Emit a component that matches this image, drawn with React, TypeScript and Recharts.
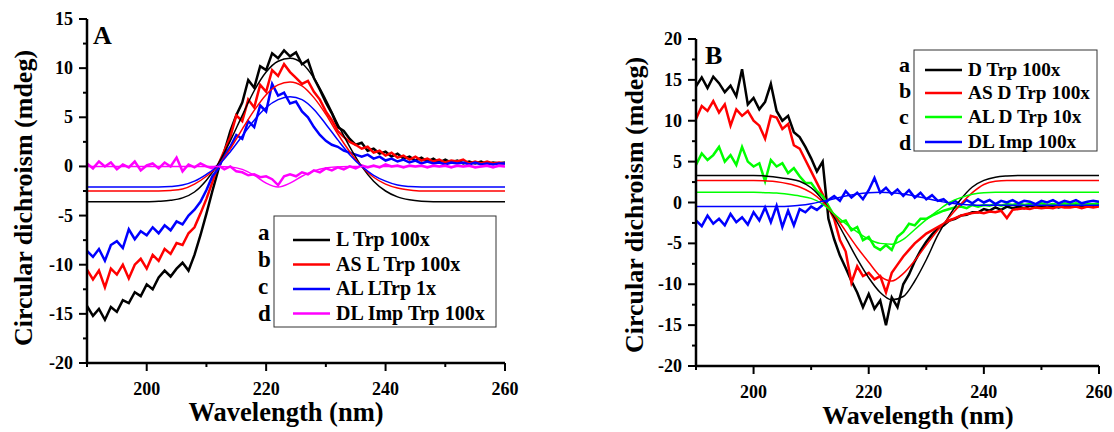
import React from 'react';
import { LineChart, Line, XAxis, YAxis } from 'recharts';

const FONT = '"Liberation Serif", "Times New Roman", serif';

// ---------- shared x values ----------
const wavelengths = [
  190, 191, 192, 193, 194, 195, 196, 197, 198, 199,
  200, 201, 202, 203, 204, 205, 206, 207, 208, 209,
  210, 211, 212, 213, 214, 215, 216, 217, 218, 219,
  220, 221, 222, 223, 224, 225, 226, 227, 228, 229,
  230, 231, 232, 233, 234, 235, 236, 237, 238, 239,
  240, 241, 242, 243, 244, 245, 246, 247, 248, 249,
  250, 251, 252, 253, 254, 255, 256, 257, 258, 259, 260,
];
const fitWavelengths = [
  190, 192, 194, 196, 198, 200, 202, 204, 206, 208, 210, 212,
  214, 216, 218, 220, 222, 224, 226, 228, 230, 232, 234, 236,
  238, 240, 242, 244, 246, 248, 250, 252, 254, 256, 258, 260,
];

const xTicks = [190, 200, 210, 220, 230, 240, 250, 260];
const yTicksA = [-20, -17.5, -15, -12.5, -10, -7.5, -5, -2.5, 0, 2.5, 5, 7.5, 10, 12.5, 15];
const yTicksB = [-20, -17.5, -15, -12.5, -10, -7.5, -5, -2.5, 0, 2.5, 5, 7.5, 10, 12.5, 15, 17.5, 20];

// ---------- Panel A measured ----------
const aLTrp = [
  -14.2, -15.2, -14.5, -15.6, -14.3, -14.8, -13.6, -13.9, -12.8, -13.2,
  -12.0, -12.5, -11.3, -10.6, -11.2, -10.4, -9.8, -10.6, -9.0, -7.0,
  -4.8, -2.5, -0.3, 1.5, 3.6, 5.2, 6.5, 8.8, 8.0, 10.2,
  9.8, 11.5, 11.0, 11.8, 11.2, 11.6, 10.4, 10.8, 9.0, 7.8,
  6.5, 5.4, 4.0, 3.6, 2.8, 2.2, 2.4, 1.6, 1.8, 1.3,
  1.5, 1.0, 1.3, 0.8, 1.0, 0.6, 0.9, 0.5, 0.8, 0.4,
  0.7, 0.4, 0.6, 0.3, 0.5, 0.3, 0.5, 0.2, 0.4, 0.3, 0.4,
];
const aASLTrp = [
  -10.5, -11.5, -10.6, -12.3, -10.4, -11.0, -10.0, -11.4, -10.0, -9.4,
  -10.4, -9.0, -9.6, -8.4, -8.9, -7.8, -8.0, -6.8, -6.2, -4.8,
  -3.3, -1.6, 0.2, 1.6, 3.0, 5.2, 4.6, 6.8, 6.0, 8.3,
  7.6, 9.8, 9.2, 10.4, 9.6, 9.0, 8.4, 8.7, 7.6, 6.8,
  5.6, 4.7, 3.6, 3.0, 2.5, 2.2, 1.8, 2.0, 1.4, 1.6,
  1.1, 1.4, 0.9, 1.1, 0.7, 1.0, 0.6, 0.8, 0.5, 0.7,
  0.4, 0.6, 0.5, 0.7, 0.3, 0.5, 0.3, 0.5, 0.3, 0.4, 0.3,
];
const aALLTrp = [
  -8.6, -9.2, -8.4, -9.6, -8.0, -7.6, -8.3, -6.4, -7.4, -6.6,
  -7.0, -6.2, -6.8, -6.0, -6.5, -5.6, -5.9, -5.0, -4.4, -3.6,
  -2.4, -1.0, -0.2, 1.2, 2.0, 3.2, 2.8, 4.6, 4.0, 6.2,
  5.6, 8.4, 7.2, 7.5, 6.4, 6.6, 5.6, 5.0, 4.0, 3.2,
  2.6, 2.2, 2.0, 1.6, 1.4, 1.2, 1.0, 1.2, 0.8, 1.0,
  0.6, 0.8, 0.5, 0.7, 0.4, 0.6, 0.3, 0.5, 0.3, 0.4,
  0.2, 0.4, 0.3, 0.4, 0.2, 0.4, 0.2, 0.3, 0.2, 0.3, 0.3,
];
const aDLImp = [
  0.3, -0.2, 0.5, 0.0, 0.4, -0.3, 0.2, -0.1, 0.5, -0.4,
  0.1, 0.3, -0.2, 0.4, 0.0, 0.9, -0.5, 0.2, -0.1, 0.3,
  0.0, -0.2, 0.1, -0.3, 0.0, -0.5, -0.6, -0.9, -0.8, -1.1,
  -1.0, -1.3, -1.9, -1.0, -0.8, -1.0, -0.6, -0.8, -0.4, -0.6,
  -0.2, -0.4, -0.1, -0.3, 0.0, -0.2, 0.1, -0.1, 0.1, -0.1,
  0.2, 0.0, 0.1, -0.1, 0.1, 0.0, 0.1, -0.1, 0.1, 0.0,
  0.1, -0.1, 0.1, 0.0, 0.1, -0.1, 0.0, 0.1, -0.1, 0.1, 0.0,
];

// ---------- Panel A fits ----------
const aLTrpFit = [
  -3.6, -3.6, -3.6, -3.6, -3.6, -3.6, -3.55, -3.45, -3.2, -2.6, -1.4, 0.3,
  2.6, 5.2, 7.7, 9.6, 10.7, 11.0, 10.5, 9.0, 6.8, 4.3, 2.0, 0.0,
  -1.5, -2.5, -3.1, -3.4, -3.55, -3.6, -3.6, -3.6, -3.6, -3.6, -3.6, -3.6,
];
const aASLTrpFit = [
  -2.5, -2.5, -2.5, -2.5, -2.5, -2.5, -2.5, -2.45, -2.3, -1.8, -1.0, 0.1,
  1.8, 3.8, 5.7, 7.3, 8.3, 8.6, 8.2, 7.0, 5.3, 3.3, 1.5, 0.0,
  -1.1, -1.8, -2.2, -2.4, -2.5, -2.5, -2.5, -2.5, -2.5, -2.5, -2.5, -2.5,
];
const aALLTrpFit = [
  -2.1, -2.1, -2.1, -2.1, -2.1, -2.1, -2.1, -2.05, -1.9, -1.5, -0.8, 0.1,
  1.5, 3.1, 4.7, 6.0, 6.8, 7.1, 6.8, 5.8, 4.3, 2.7, 1.2, 0.0,
  -0.9, -1.5, -1.9, -2.05, -2.1, -2.1, -2.1, -2.1, -2.1, -2.1, -2.1, -2.1,
];
const aDLImpFit = [
  0, 0, 0, 0, 0, 0, 0, 0, 0, 0, 0, 0,
  -0.05, -0.3, -0.9, -1.7, -2.1, -1.7, -1.0, -0.45, -0.15, -0.05, 0, 0,
  0, 0, 0, 0, 0, 0, 0, 0, 0, 0, 0, 0,
];

// ---------- Panel B measured ----------
const bDTrp = [
  14.2, 15.3, 14.0, 15.4, 14.6, 13.5, 14.3, 13.0, 16.3, 12.0,
  12.8, 11.4, 12.3, 14.5, 11.2, 10.0, 10.6, 8.6, 8.0, 6.8,
  5.4, 3.8, 5.0, -2.0, -4.5, -6.5, -8.0, -9.6, -11.0, -12.8,
  -11.2, -13.0, -12.0, -15.0, -11.6, -12.8, -10.0, -8.8, -7.2, -5.9,
  -4.8, -3.9, -3.2, -2.8, -2.2, -2.0, -1.6, -1.5, -1.2, -1.2,
  -0.8, -1.0, -0.6, -0.9, -0.5, -0.7, -0.5, -0.7, -0.4, -0.6,
  -0.5, -0.6, -0.4, -0.6, -0.4, -0.5, -0.3, -0.6, -0.4, -0.5, -0.3,
];
const bASDTrp = [
  10.2, 11.8, 11.2, 12.4, 11.0, 12.0, 9.4, 11.4, 10.6, 11.2,
  10.0, 9.4, 7.8, 10.6, 10.4, 9.0, 9.6, 7.0, 6.6, 5.2,
  3.8, 2.4, 1.0, -0.6, -2.0, -4.6, -6.0, -9.8, -7.8, -9.0,
  -8.6, -9.4, -9.0, -11.0, -8.6, -7.6, -6.6, -5.8, -5.0, -4.4,
  -3.8, -3.4, -3.0, -2.6, -2.2, -1.9, -1.6, -1.4, -1.3, -1.2,
  -1.3, -1.1, -1.2, -1.0, -1.9, -0.9, -0.8, -0.7, -0.8, -0.6,
  -0.7, -0.6, -0.7, -0.5, -0.6, -0.6, -0.5, -0.7, -0.5, -0.6, -0.5,
];
const bALDTrp = [
  4.6, 6.0, 5.2, 5.8, 6.8, 5.0, 5.8, 4.6, 6.8, 5.0,
  4.4, 4.8, 2.6, 5.2, 4.4, 4.8, 3.6, 4.2, 3.2, 2.4,
  2.4, 1.4, 0.8, -0.4, -1.6, -2.4, -2.2, -3.4, -3.0, -4.6,
  -4.2, -5.4, -5.8, -5.2, -5.8, -4.2, -3.6, -2.6, -2.8, -2.0,
  -2.0, -1.6, -1.3, -1.0, -0.8, -0.6, -0.5, -0.7, -0.3, -0.5,
  -0.3, -0.4, -0.2, -0.4, -0.2, -0.3, -0.1, -0.3, -0.2, -0.3,
  -0.1, -0.3, -0.2, -0.3, -0.1, -0.2, -0.1, -0.3, -0.2, -0.2, -0.1,
];
const bDLImp = [
  -2.2, -2.9, -1.6, -2.6, -2.0, -2.8, -1.4, -2.4, -1.8, -2.7,
  -1.2, -2.2, -0.6, -2.4, -0.4, -3.0, -1.0, -2.8, -0.8, -1.2,
  -0.5, -0.9, -0.3, 0.3, 0.8, 0.2, 1.4, 0.6, 1.2, 0.4,
  1.5, 3.0, 1.2, 1.8, 1.0, 1.6, 0.8, 1.5, 0.6, 1.2,
  0.4, 0.9, 0.2, 0.4, -0.2, 0.2, -0.3, 0.3, -0.1, 0.4,
  0.0, 0.3, -0.2, 0.2, 0.0, 0.3, -0.1, 0.2, 0.1, -0.2,
  0.2, 0.0, 0.3, -0.1, 0.2, 0.0, 0.3, -0.1, 0.1, 0.2, 0.1,
];

// ---------- Panel B fits ----------
const bDTrpFit = [
  3.3, 3.3, 3.3, 3.3, 3.3, 3.3, 3.25, 3.1, 2.9, 2.6, 1.8, 0.3,
  -1.8, -4.3, -6.9, -9.2, -11.0, -11.9, -11.5, -9.6, -7.0, -4.0, -1.6, 0.4,
  1.9, 2.7, 3.1, 3.25, 3.3, 3.3, 3.3, 3.3, 3.3, 3.3, 3.3, 3.3,
];
const bASDTrpFit = [
  2.7, 2.7, 2.7, 2.7, 2.7, 2.7, 2.65, 2.55, 2.3, 1.9, 1.2, 0.1,
  -1.5, -3.5, -5.5, -7.3, -9.0, -9.6, -8.7, -7.1, -5.2, -3.4, -1.8, -0.2,
  1.2, 2.2, 2.6, 2.7, 2.7, 2.7, 2.7, 2.7, 2.7, 2.7, 2.7, 2.7,
];
const bALDTrpFit = [
  1.25, 1.25, 1.25, 1.25, 1.25, 1.25, 1.2, 1.15, 1.0, 0.8, 0.5, -0.2,
  -1.4, -2.6, -3.6, -4.5, -5.0, -5.1, -4.5, -3.3, -2.1, -1.0, 0.0, 0.6,
  1.0, 1.2, 1.25, 1.25, 1.25, 1.25, 1.25, 1.25, 1.25, 1.25, 1.25, 1.25,
];
const bDLImpFit = [
  -0.5, -0.5, -0.5, -0.5, -0.5, -0.5, -0.5, -0.5, -0.45, -0.35, -0.15, 0.15,
  0.45, 0.8, 1.05, 1.2, 1.25, 1.2, 1.05, 0.8, 0.5, 0.2, -0.05, -0.2,
  -0.3, -0.35, -0.35, -0.35, -0.35, -0.35, -0.35, -0.35, -0.35, -0.35, -0.35, -0.35,
];

// ---------- legend labels ----------
const legendA = ['L Trp 100x', 'AS L Trp 100x', 'AL LTrp 1x', 'DL Imp Trp 100x'];
const legendB = ['D Trp 100x', 'AS D Trp 100x', 'AL D Trp 10x', 'DL Imp 100x'];
const rowLetters = ['a', 'b', 'c', 'd'];
const colorsA = ['#000000', '#ff0000', '#0000ff', '#ff00ff'];
const colorsB = ['#000000', '#ff0000', '#00ff00', '#0000ff'];

const toPoints = (xs: number[], ys: number[]) => xs.map((x, i) => ({ x, y: ys[i] }));

type Side = 'bottom' | 'left' | 'top' | 'right';

function makeTick(side: Side, isMajor: (v: number) => boolean, showLabel: boolean, majorLen: number, minorLen: number) {
  return (props: any) => {
    const { x, y, payload } = props;
    const v = payload.value as number;
    const major = isMajor(v);
    const len = major ? majorLen : minorLen;
    let line;
    let label = null;
    if (side === 'bottom') {
      line = <line x1={x} y1={y} x2={x} y2={y + len} stroke="#000" strokeWidth={2} />;
      if (showLabel && major)
        label = (
          <text x={x} y={y + 32} textAnchor="middle" fontFamily={FONT} fontWeight="bold" fontSize={18} fill="#000">
            {v}
          </text>
        );
    } else if (side === 'left') {
      line = <line x1={x} y1={y} x2={x - len} y2={y} stroke="#000" strokeWidth={2} />;
      if (showLabel && major)
        label = (
          <text x={x - 14} y={y + 6} textAnchor="end" fontFamily={FONT} fontWeight="bold" fontSize={18} fill="#000">
            {v}
          </text>
        );
    } else if (side === 'top') {
      line = <line x1={x} y1={y} x2={x} y2={y - len} stroke="#000" strokeWidth={1.5} />;
    } else {
      line = <line x1={x} y1={y} x2={x + len} y2={y} stroke="#000" strokeWidth={1.5} />;
    }
    return (
      <g>
        {line}
        {label}
      </g>
    );
  };
}

const xMajor = (v: number) => v % 20 === 0;
const yMajor = (v: number) => Math.abs(v % 5) < 1e-6;

type PanelProps = {
  left: number;
  width: number;
  plotLeft: number;
  plotRight: number;
  plotTop: number;
  plotBottom: number;
  yDomain: [number, number];
  yTicks: number[];
  measured: number[][];
  fits: number[][];
  colors: string[];
};

function Panel(p: PanelProps) {
  const axisLine = { stroke: '#000', strokeWidth: 2.5 };
  return (
    <div style={{ position: 'absolute', left: p.left, top: 0, width: p.width, height: 432 }}>
      <LineChart
        width={p.width}
        height={432}
        margin={{ top: p.plotTop, right: p.width - p.plotRight, bottom: 0, left: 0 }}
      >
        <XAxis
          xAxisId="b"
          dataKey="x"
          type="number"
          domain={[190, 260]}
          ticks={xTicks}
          interval={0}
          allowDataOverflow
          height={432 - p.plotBottom}
          tickSize={0}
          tickMargin={0}
          axisLine={axisLine}
          tickLine={false}
          tick={makeTick('bottom', xMajor, true, 8, 4)}
        />
        <XAxis
          xAxisId="t"
          orientation="top"
          dataKey="x"
          type="number"
          domain={[190, 260]}
          ticks={xTicks}
          interval={0}
          allowDataOverflow
          height={0}
          tickSize={0}
          tickMargin={0}
          axisLine={axisLine}
          tickLine={false}
          tick={makeTick('top', xMajor, false, 3, 2)}
        />
        <YAxis
          yAxisId="l"
          type="number"
          domain={p.yDomain}
          ticks={p.yTicks}
          interval={0}
          allowDataOverflow
          width={p.plotLeft}
          tickSize={0}
          tickMargin={0}
          axisLine={axisLine}
          tickLine={false}
          tick={makeTick('left', yMajor, true, 8, 4)}
        />
        <YAxis
          yAxisId="r"
          orientation="right"
          type="number"
          domain={p.yDomain}
          ticks={p.yTicks}
          interval={0}
          allowDataOverflow
          width={0}
          tickSize={0}
          tickMargin={0}
          axisLine={axisLine}
          tickLine={false}
          tick={makeTick('right', yMajor, false, 3, 2)}
        />
        {p.measured.map((ys, i) => (
          <Line
            key={'m' + i}
            xAxisId="b"
            yAxisId="l"
            data={toPoints(wavelengths, ys)}
            dataKey="y"
            type="linear"
            stroke={p.colors[i]}
            strokeWidth={2.5}
            dot={false}
            activeDot={false}
            isAnimationActive={false}
          />
        ))}
        {p.fits.map((ys, i) => (
          <Line
            key={'f' + i}
            xAxisId="b"
            yAxisId="l"
            data={toPoints(fitWavelengths, ys)}
            dataKey="y"
            type="monotone"
            stroke={p.colors[i]}
            strokeWidth={1.5}
            dot={false}
            activeDot={false}
            isAnimationActive={false}
          />
        ))}
      </LineChart>
    </div>
  );
}

type LegendProps = {
  box: [number, number, number, number];
  letterX: number;
  letterSize: number;
  letterBaselines: number[];
  rowYs: number[];
  lineX: [number, number];
  textX: number;
  textSize: number;
  labels: string[];
  colors: string[];
};

function LegendBlock(l: LegendProps) {
  return (
    <g>
      <rect x={l.box[0]} y={l.box[1]} width={l.box[2]} height={l.box[3]} fill="none" stroke="#333" strokeWidth={1} />
      {l.labels.map((lab, i) => (
        <g key={lab}>
          <line x1={l.lineX[0]} x2={l.lineX[1]} y1={l.rowYs[i]} y2={l.rowYs[i]} stroke={l.colors[i]} strokeWidth={2.5} />
          <text x={l.textX} y={l.rowYs[i] + 6} fontFamily={FONT} fontWeight="bold" fontSize={l.textSize} fill="#000">
            {lab}
          </text>
          <text x={l.letterX} y={l.letterBaselines[i]} fontFamily={FONT} fontWeight="bold" fontSize={l.letterSize} fill="#000">
            {rowLetters[i]}
          </text>
        </g>
      ))}
    </g>
  );
}

export default function App() {
  return (
    <div style={{ position: 'absolute', left: 0, top: 0, width: 1114, height: 432, background: '#fff' }}>
      <Panel
        left={0}
        width={557}
        plotLeft={87}
        plotRight={505}
        plotTop={19}
        plotBottom={363}
        yDomain={[-20, 15]}
        yTicks={yTicksA}
        measured={[aLTrp, aASLTrp, aALLTrp, aDLImp]}
        fits={[aLTrpFit, aASLTrpFit, aALLTrpFit, aDLImpFit]}
        colors={colorsA}
      />
      <Panel
        left={557}
        width={557}
        plotLeft={139}
        plotRight={542}
        plotTop={39}
        plotBottom={366}
        yDomain={[-20, 20]}
        yTicks={yTicksB}
        measured={[bDTrp, bASDTrp, bALDTrp, bDLImp]}
        fits={[bDTrpFit, bASDTrpFit, bALDTrpFit, bDLImpFit]}
        colors={colorsB}
      />
      <svg
        width={1114}
        height={432}
        style={{ position: 'absolute', left: 0, top: 0, pointerEvents: 'none' }}
      >
        <text x={93} y={44} fontFamily={FONT} fontWeight="bold" fontSize={26} fill="#000">A</text>
        <text x={705} y={64} fontFamily={FONT} fontWeight="bold" fontSize={26} fill="#000">B</text>
        <text x={286} y={421} textAnchor="middle" fontFamily={FONT} fontWeight="bold" fontSize={26.5} fill="#000">
          Wavelength (nm)
        </text>
        <text x={918} y={424} textAnchor="middle" fontFamily={FONT} fontWeight="bold" fontSize={26} fill="#000">
          Wavelength (nm)
        </text>
        <text
          transform="translate(32,198) rotate(-90)"
          textAnchor="middle"
          fontFamily={FONT}
          fontWeight="bold"
          fontSize={26}
          fill="#000"
        >
          Circular dichroism (mdeg)
        </text>
        <text
          transform="translate(643,205) rotate(-90)"
          textAnchor="middle"
          fontFamily={FONT}
          fontWeight="bold"
          fontSize={26}
          fill="#000"
        >
          Circular dichroism (mdeg)
        </text>
        <LegendBlock
          box={[274, 216, 222, 111]}
          letterX={258}
          letterSize={23}
          letterBaselines={[240, 267, 294, 321]}
          rowYs={[240, 264.5, 289, 313.5]}
          lineX={[293, 330]}
          textX={336}
          textSize={20}
          labels={legendA}
          colors={colorsA}
        />
        <LegendBlock
          box={[914, 50, 183, 101]}
          letterX={899}
          letterSize={22}
          letterBaselines={[72, 98, 124, 150]}
          rowYs={[70, 93, 117, 142]}
          lineX={[925, 962]}
          textX={968}
          textSize={19.3}
          labels={legendB}
          colors={colorsB}
        />
      </svg>
    </div>
  );
}
